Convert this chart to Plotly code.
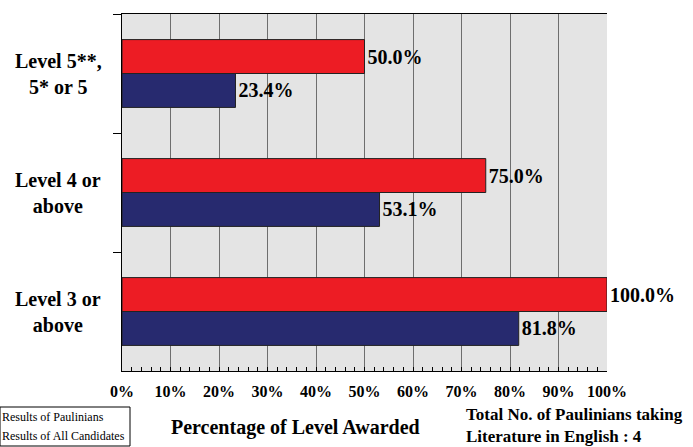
import plotly.graph_objects as go

categories = ["Level 5**,<br>5* or 5", "Level 4 or<br>above", "Level 3 or<br>above"]
paulinians = [50.0, 75.0, 100.0]
all_candidates = [23.4, 53.1, 81.8]
x_ticks = [0, 10, 20, 30, 40, 50, 60, 70, 80, 90, 100]
x_tick_labels = [f"{v}%" for v in x_ticks]

SERIF = "Liberation Serif, Times New Roman, serif"
RED = "#ed1c24"
NAVY = "#272a6f"

fig = go.Figure()
fig.add_trace(go.Bar(
    y=categories, x=paulinians, orientation="h", name="Results of Paulinians",
    marker=dict(color=RED, line=dict(color="#222222", width=1)),
    texttemplate="<b>%{x:.1f}%</b>", textposition="outside",
    textfont=dict(family=SERIF, size=20, color="black"),
    cliponaxis=False, constraintext="none",
))
fig.add_trace(go.Bar(
    y=categories, x=all_candidates, orientation="h", name="Results of All Candidates",
    marker=dict(color=NAVY, line=dict(color="#222222", width=1)),
    texttemplate="<b>%{x:.1f}%</b>", textposition="outside",
    textfont=dict(family=SERIF, size=20, color="black"),
    cliponaxis=False, constraintext="none",
))

annotations = []
for c in categories:
    annotations.append(dict(
        xref="paper", yref="y", x=(58 - 122) / 485, y=c, xanchor="center", yanchor="middle",
        text=f"<b>{c}</b>", showarrow=False, align="center",
        font=dict(family=SERIF, size=20, color="black"),
    ))
annotations.append(dict(
    xref="paper", yref="paper", x=(295.5 - 122) / 485, y=(371 - 428) / 357,
    xanchor="center", yanchor="middle", showarrow=False,
    text="<b>Percentage of Level Awarded</b>",
    font=dict(family=SERIF, size=20, color="black"),
))
annotations.append(dict(
    xref="paper", yref="paper", x=(464 - 122) / 485, y=(371 - 426) / 357,
    xanchor="left", yanchor="middle", showarrow=False, align="left",
    text="<b>Total No. of Paulinians taking<br>Literature in English : 4</b>",
    font=dict(family=SERIF, size=17, color="black"),
))
for txt, yy in [("Results of Paulinians", 417), ("Results of All Candidates", 436)]:
    annotations.append(dict(
        xref="paper", yref="paper", x=(0 - 122) / 485, y=(371 - yy) / 357,
        xanchor="left", yanchor="middle", showarrow=False, align="left",
        text=txt, font=dict(family=SERIF, size=12, color="black"),
    ))

fig.update_layout(
    width=693, height=447,
    margin=dict(l=122, r=86, t=14, b=76),
    paper_bgcolor="white", plot_bgcolor="#e4e4e4",
    barmode="group", bargap=0.43, bargroupgap=0,
    showlegend=False,
    annotations=annotations,
    shapes=[dict(type="rect", xref="paper", yref="paper",
                 x0=(0 - 122) / 485, x1=(130 - 122) / 485,
                 y0=(371 - 446) / 357, y1=(371 - 407) / 357,
                 line=dict(color="black", width=1), fillcolor="rgba(0,0,0,0)")],
    xaxis=dict(
        range=[0, 100], tickvals=x_ticks, ticktext=[f"<b>{t}</b>" for t in x_tick_labels],
        tickfont=dict(family=SERIF, size=16, color="black"),
        showgrid=True, gridcolor="#6e6e6e", gridwidth=1,
        showline=True, linecolor="black", linewidth=1, mirror=True,
        ticks="inside", ticklen=4, tickcolor="black",
        minor=dict(dtick=2, ticks="inside", ticklen=4, tickcolor="black", showgrid=False),
        ticklabelstandoff=6, zeroline=False, fixedrange=True,
    ),
    yaxis=dict(
        type="category", autorange="reversed", showticklabels=False,
        showgrid=False, showline=True, linecolor="black", linewidth=1,
        ticks="outside", tickson="boundaries", ticklen=8, tickcolor="black",
        zeroline=False, fixedrange=True,
    ),
)

fig.write_html(
    "out.html",
    config={"displayModeBar": False},
    post_script="document.body.style.margin='0';document.body.style.padding='0';",
)
